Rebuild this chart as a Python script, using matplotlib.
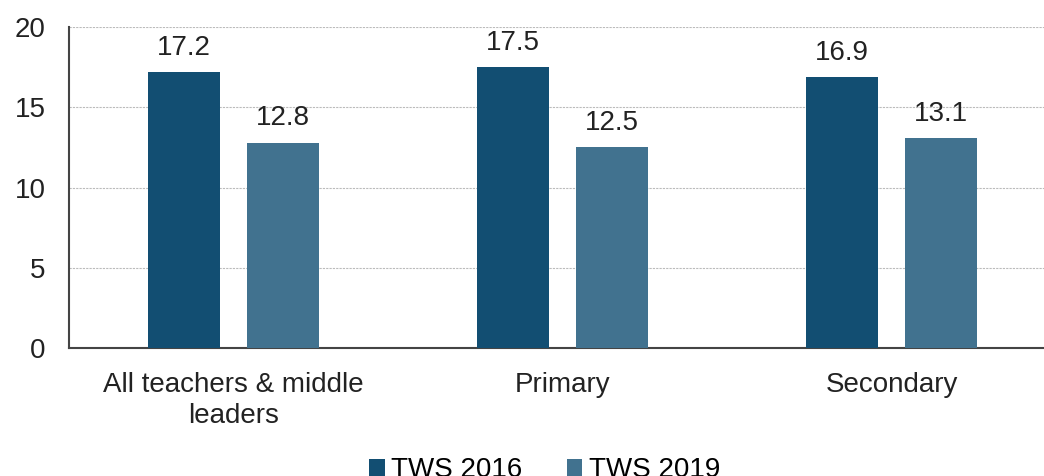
import matplotlib
matplotlib.use("Agg")
import matplotlib.pyplot as plt
import numpy as np

plt.rcParams['font.family'] = ['Liberation Sans', 'DejaVu Sans']

categories = ["All teachers & middle\nleaders", "Primary", "Secondary"]
tws2016 = [17.2, 17.5, 16.9]
tws2019 = [12.8, 12.5, 13.1]
series_names = ["TWS 2016", "TWS 2019"]
colors = ["#124e72", "#41728f"]

FS = 20

fig = plt.figure(figsize=(10.44, 4.76), dpi=100)
ax = fig.add_axes([69/1044, 1 - 348/476, (1056 - 69)/1044, (348 - 27)/476])

x = np.arange(len(categories))
w = 0.219
off = 0.15
b1 = ax.bar(x - off, tws2016, w, color=colors[0], label=series_names[0], zorder=3)
b2 = ax.bar(x + off, tws2019, w, color=colors[1], label=series_names[1], zorder=3)

for bars in (b1, b2):
    for r in bars:
        ax.text(r.get_x() + r.get_width()/2, r.get_height() + 0.7, f"{r.get_height():.1f}",
                ha='center', va='bottom', fontsize=FS, color='#222222')

ax.set_ylim(0, 20)
ax.set_xlim(-0.5, 2.5)
ax.set_yticks([0, 5, 10, 15, 20])
ax.set_xticks(x)
ax.set_xticklabels(categories, fontsize=FS, color='#222222', linespacing=1.25)
ax.tick_params(axis='y', labelsize=FS, labelcolor='#222222', length=0, pad=17)
ax.tick_params(axis='x', length=0, pad=17)
ax.yaxis.grid(True, color='#bbbbbb', linestyle=(0, (2, 1)), linewidth=0.8, zorder=0)
for s in ['top', 'right']:
    ax.spines[s].set_visible(False)
ax.spines['left'].set_color('#444444')
ax.spines['bottom'].set_color('#444444')
ax.spines['left'].set_linewidth(1.5)
ax.spines['bottom'].set_linewidth(1.5)

fig.legend(handles=[b1, b2], loc='center', bbox_to_anchor=(545/1044, 1 - 470/476), ncol=2,
           frameon=False, fontsize=FS, handlelength=0.55, handleheight=0.55,
           handletextpad=0.25, columnspacing=1.6)

fig.savefig("out.png", dpi=100)
